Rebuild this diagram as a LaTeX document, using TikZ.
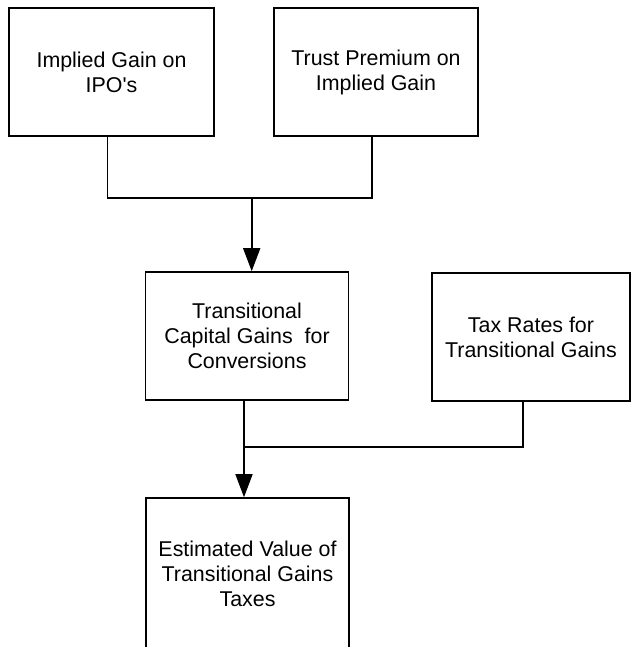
\documentclass[tikz,border=0pt]{standalone}
\usepackage{fontspec}
\setmainfont{Liberation Sans}[Ligatures=TeXOff]
\usetikzlibrary{arrows.meta}

\tikzset{
  box/.style={draw, line width=0.8pt, align=center, inner sep=0pt,
    font=\fontsize{10.7}{12.5}\selectfont},
  conn/.style={line width=0.8pt},
  arr/.style={conn, -{Triangle[length=11.5pt,width=8.5pt]}}
}

\begin{document}
\begin{tikzpicture}[x=0.5pt,y=-0.5pt]
                \useasboundingbox (0,0) rectangle (631,647);
                \clip (0,0) rectangle (631,647);
                % upper row
                \node[box, minimum width=102.5pt, minimum height=64pt] (gain) at (111.5,72) {Implied Gain on\\IPO's};
                \node[box, minimum width=102pt, minimum height=64pt] (trust) at (376,72) {Trust Premium on\\Implied Gain};
                % middle row
                \node[box, minimum width=101.5pt, minimum height=64pt] (trans) at (247,336) {Transitional\\Capital Gains~ for\\Conversions};
                \node[box, minimum width=99pt, minimum height=64pt] (rates) at (531,337) {Tax Rates for\\Transitional Gains};
                % result, cut off below
                \node[box, minimum width=101.5pt, minimum height=76pt] (value) at (247.5,574) {Estimated Value of\\Transitional Gains\\Taxes};
                \coordinate (j1) at (251.7,198);
                \coordinate (j2) at (244,447);
                \draw[conn] ([xshift=-2pt]gain.south) |- (j1) -| ([xshift=-2pt]trust.south);
                \draw[arr] (j1) -- (j1 |- trans.north);
                \draw[conn] (j2 |- trans.south) -- (j2) -| ([xshift=-4pt]rates.south);
                \draw[arr] (j2) -- (j2 |- value.north);
            \end{tikzpicture}
\end{document}
